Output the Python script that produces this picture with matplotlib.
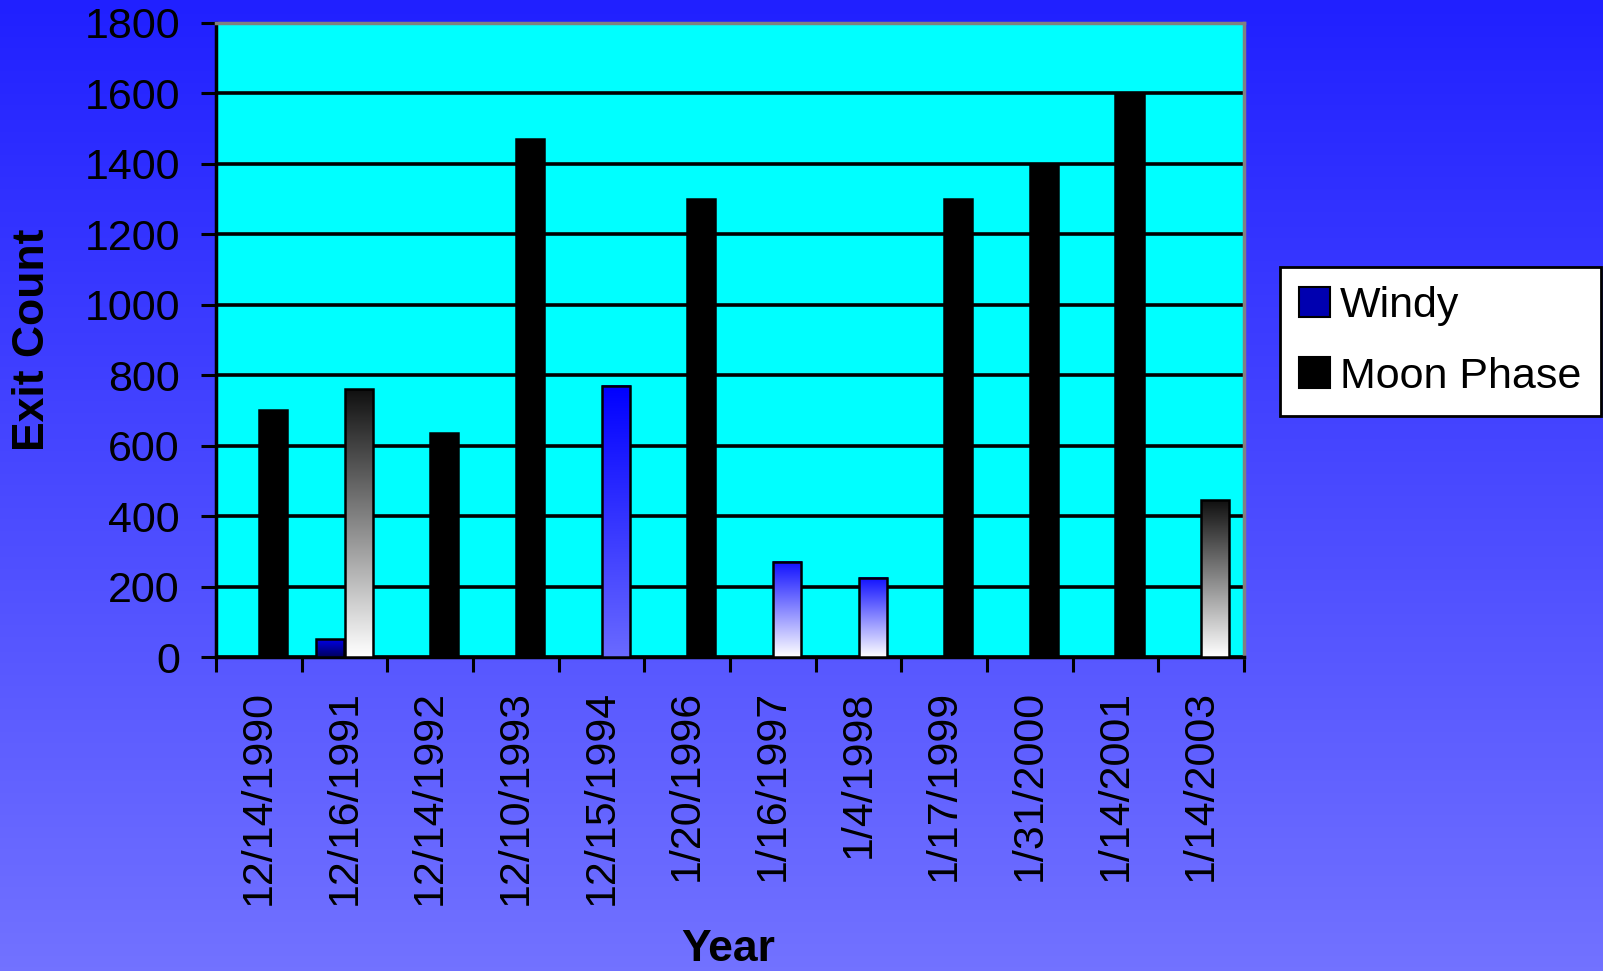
import numpy as np
import matplotlib
matplotlib.use("Agg")
import matplotlib.pyplot as plt
from matplotlib.colors import LinearSegmentedColormap
from matplotlib.patches import Patch

# data
dates = ["12/14/1990", "12/16/1991", "12/14/1992", "12/10/1993", "12/15/1994",
         "1/20/1996", "1/16/1997", "1/4/1998", "1/17/1999", "1/31/2000",
         "1/14/2001", "1/14/2003"]
windy = [np.nan, 50, np.nan, np.nan, np.nan, np.nan, np.nan, np.nan,
         np.nan, np.nan, np.nan, np.nan]
moon_phase = [700, 760, 635, 1470, 770, 1300, 270, 225, 1300, 1400, 1600, 445]
y_ticks = [0, 200, 400, 600, 800, 1000, 1200, 1400, 1600, 1800]

# fill look of each bar (top colour, bottom colour)
windy_fill = ("#0000e6", "#000060")
moon_fills = [("#000000", "#000000"), ("#101010", "#ffffff"), ("#000000", "#000000"),
              ("#000000", "#000000"), ("#0000ff", "#6a6aff"), ("#000000", "#000000"),
              ("#1010ff", "#ffffff"), ("#1010ff", "#ffffff"), ("#000000", "#000000"),
              ("#000000", "#000000"), ("#000000", "#000000"), ("#101010", "#ffffff")]

plt.rcParams['font.family'] = ['Liberation Sans', 'DejaVu Sans']

fig = plt.figure(figsize=(16.03, 9.71), dpi=100)

# background gradient
bg = fig.add_axes([0, 0, 1, 1])
bg.set_zorder(-10)
grad = np.linspace(0, 1, 256).reshape(-1, 1)
bg_cmap = LinearSegmentedColormap.from_list("bg", ["#2020ff", "#7272ff"])
bg.imshow(grad, aspect='auto', cmap=bg_cmap, extent=[0, 1, 0, 1], origin='upper')
bg.axis('off')

ax = fig.add_axes([216 / 1603, 1 - 657 / 971, (1244 - 216) / 1603, (657 - 23) / 971])
ax.set_facecolor("#00ffff")

x = np.arange(len(dates))
w = 0.33
b1 = ax.bar(x - w, windy, w, align='edge', facecolor='none', edgecolor='black',
            linewidth=1.8, zorder=4)
b2 = ax.bar(x, moon_phase, w, align='edge', facecolor='none', edgecolor='black',
            linewidth=1.8, zorder=4)

def fill_bar(rect, top, bottom):
    h = rect.get_height()
    if np.isnan(h) or h <= 0:
        return
    cm = LinearSegmentedColormap.from_list("f", [top, bottom])
    x0 = rect.get_x()
    ax.imshow(grad, aspect='auto', cmap=cm, origin='upper',
              extent=[x0, x0 + rect.get_width(), 0, h], zorder=3)

for rect in b1:
    fill_bar(rect, *windy_fill)
for rect, f in zip(b2, moon_fills):
    fill_bar(rect, *f)

ax.set_xlim(-0.5, len(dates) - 0.5)
ax.set_ylim(0, 1800)
ax.set_yticks(y_ticks)
ax.yaxis.grid(True, color='black', linewidth=2.6)
ax.set_axisbelow(True)

ax.set_xticks(x)
ax.set_xticklabels(dates, rotation=90, fontsize=31, va='top')
ax.set_xticks(np.arange(-0.5, len(dates)), minor=True)
ax.tick_params(axis='x', which='major', length=0, pad=24)
ax.tick_params(axis='x', which='minor', length=11, width=2.2, direction='out')
ax.tick_params(axis='y', length=11, width=2.2, direction='out', labelsize=31, pad=15)

for s in ['top', 'right']:
    ax.spines[s].set_color('#808080')
    ax.spines[s].set_linewidth(2.5)
for s in ['left', 'bottom']:
    ax.spines[s].set_color('black')
    ax.spines[s].set_linewidth(2.5)

fig.text(33 / 1603, 1 - 340 / 971, "Exit Count", rotation=90, fontsize=32,
         fontweight='bold', ha='center', va='center')
fig.text(728 / 1603, 1 / 971, "Year", fontsize=32, fontweight='bold',
         ha='center', va='bottom')

handles = [Patch(facecolor="#0000b0", edgecolor='black', linewidth=1.5),
           Patch(facecolor="black", edgecolor='black', linewidth=1.5)]
leg = fig.legend(handles, ["Windy", "Moon Phase"], loc='upper left',
                 bbox_to_anchor=(1280 / 1603, 1 - 267 / 971), fontsize=31,
                 frameon=True, fancybox=False, framealpha=1, edgecolor='black',
                 handlelength=0.7, handleheight=0.7, handletextpad=0.25,
                 borderpad=0.45, borderaxespad=0, labelspacing=0.7)
leg.get_frame().set_linewidth(2)

fig.savefig("out.png", dpi=100)
